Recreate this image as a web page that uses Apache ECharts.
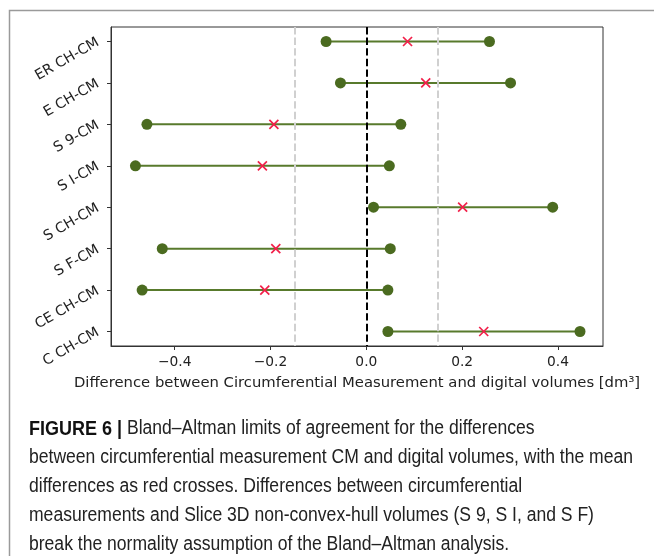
<!DOCTYPE html>
<html>
<head>
<meta charset="utf-8">
<script src="https://cdn.jsdelivr.net/npm/echarts@6/dist/echarts.min.js"></script>
<style>
html,body{margin:0;padding:0;background:#fff;}
#chart{width:654px;height:556px;}
</style>
</head>
<body>
<div id="chart"></div>
<script>
const categories = ['ER CH-CM','E CH-CM','S 9-CM','S I-CM','S CH-CM','S F-CM','CE CH-CM','C CH-CM'];
const lowerLimits = [-0.084,-0.054,-0.458,-0.482,0.015,-0.426,-0.468,0.045];
const upperLimits = [0.257,0.301,0.072,0.048,0.389,0.050,0.045,0.446];
const meanDiffs = [0.086,0.124,-0.193,-0.217,0.201,-0.189,-0.212,0.245];
const xTicks = [-0.4,-0.2,0.0,0.2,0.4];
const limitLines = [-0.15, 0.15];
const zeroLine = 0;
const xTitle = 'Difference between Circumferential Measurement and digital volumes [dm³]';
const captionHead = 'FIGURE 6 |';
const captionFirst = ' Bland–Altman limits of agreement for the differences';
const captionLines = [
  'between circumferential measurement CM and digital volumes, with the mean',
  'differences as red crosses. Differences between circumferential',
  'measurements and Slice 3D non-convex-hull volumes (S 9, S I, and S F)',
  'break the normality assumption of the Bland–Altman analysis.'
];

const yIdx = categories.map((c,i)=>i);
const chart = echarts.init(document.getElementById('chart'), null, {renderer:'canvas'});
const fmt = v => { const s = Number(v).toFixed(1); return s.replace('-', '\u2212'); };

const capFamily = '"Liberation Sans", Arial, sans-serif';
const capSize = 19.5;
const capLeft = 29, capStartY = 429, capStep = 28.8;
const capTargetWidth = 604;
const ctx = document.createElement('canvas').getContext('2d');
ctx.font = capSize + 'px ' + capFamily;
const capScale = capTargetWidth / ctx.measureText(captionLines[0]).width;

const graphics = [
  {type:'polyline', silent:true, shape:{points:[[9.5,556],[9.5,10.5],[654,10.5]]}, style:{stroke:'#9a9a9a', lineWidth:1.5, fill:null}},
  {type:'text', x:capLeft, y:capStartY, scaleX:capScale, silent:true,
   style:{x:0, y:0, verticalAlign:'middle', text:'{b|'+captionHead+'}{n|'+captionFirst+'}',
     rich:{b:{fontFamily:capFamily, fontSize:capSize+0.5, fontWeight:'bold', fill:'#111'},
           n:{fontFamily:capFamily, fontSize:capSize, fill:'#222'}}}}
];
captionLines.forEach((t,k)=>{
  graphics.push({type:'text', x:capLeft, y:capStartY + capStep*(k+1), scaleX:capScale, silent:true,
    style:{x:0, y:0, verticalAlign:'middle', text:t, fontFamily:capFamily, fontSize:capSize, fill:'#222'}});
});

const option = {
  animation:false,
  backgroundColor:'#fff',
  graphic: graphics,
  grid:{left:111, top:27, width:492, height:319, show:true, borderColor:'#333', borderWidth:1, backgroundColor:'transparent', containLabel:false},
  xAxis:{
    type:'value', min:-0.533, max:0.494,
    axisLine:{show:true, onZero:false, lineStyle:{color:'#333', width:1}},
    axisTick:{show:true, length:4, customValues:xTicks, lineStyle:{color:'#333', width:1}},
    axisLabel:{customValues:xTicks, formatter:fmt, fontFamily:'DejaVu Sans', fontSize:13.8, color:'#222', margin:9},
    splitLine:{show:false},
    name:xTitle, nameLocation:'middle', nameGap:29.5,
    nameTextStyle:{fontFamily:'DejaVu Sans', fontSize:14.8, color:'#222'}
  },
  yAxis:{
    type:'value', inverse:true, min:-0.35, max:7.35,
    axisLine:{show:true, onZero:false, lineStyle:{color:'#333', width:1}},
    axisTick:{show:true, length:4, customValues:yIdx, lineStyle:{color:'#333', width:1}},
    axisLabel:{customValues:yIdx, formatter:v=>categories[Math.round(v)], rotate:30, fontFamily:'DejaVu Sans', fontSize:14.2, color:'#222', margin:13, padding:[6,0,0,0]},
    splitLine:{show:false}
  },
  series:[
    {
      type:'custom', z:1, silent:true,
      data: yIdx.map(i=>[lowerLimits[i], upperLimits[i], i]),
      encode:{x:[0,1], y:2},
      renderItem:(params, api)=>{
        const p1 = api.coord([api.value(0), api.value(2)]);
        const p2 = api.coord([api.value(1), api.value(2)]);
        return {type:'line', shape:{x1:p1[0], y1:p1[1], x2:p2[0], y2:p2[1]}, style:{stroke:'#587a2c', lineWidth:2}};
      }
    },
    {
      type:'line', z:2, data:[], silent:true,
      markLine:{silent:true, symbol:['none','none'], label:{show:false},
        data:[
          ...limitLines.map(v=>({xAxis:v, lineStyle:{color:'#d0d0d0', type:[7.4,3.2], width:2}})),
          {xAxis:zeroLine, lineStyle:{color:'#000', type:[7.4,3.2], width:2}}
        ]}
    },
    {
      type:'scatter', z:3, silent:true, symbol:'circle', symbolSize:11,
      itemStyle:{color:'#4b6b20', opacity:1},
      data: yIdx.map(i=>[lowerLimits[i], i]).concat(yIdx.map(i=>[upperLimits[i], i]))
    },
    {
      type:'scatter', z:4, silent:true, symbol:'path://M0,0L10,10M10,0L0,10', symbolSize:9,
      itemStyle:{color:'none', borderColor:'#f2204a', borderWidth:1.7, opacity:1},
      data: yIdx.map(i=>[meanDiffs[i], i])
    }
  ]
};
chart.setOption(option);
</script>
</body>
</html>
